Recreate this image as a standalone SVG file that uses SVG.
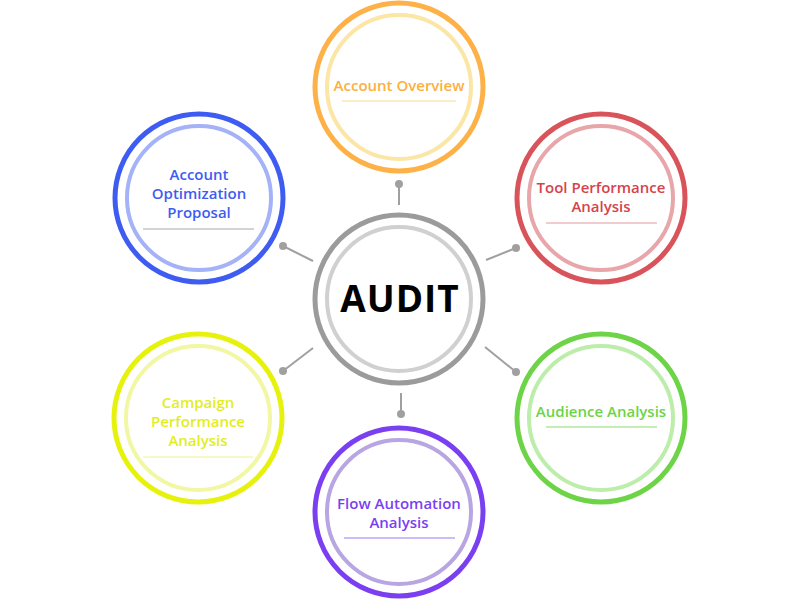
<svg xmlns="http://www.w3.org/2000/svg" width="800" height="600" viewBox="0 0 800 600">
<style>
.o{fill:none;stroke-width:5}
.i{fill:none;stroke-width:4}
.t{font-family:"Open Sans","Liberation Sans",sans-serif;font-weight:600;font-size:15px;text-anchor:middle}
.u{stroke-width:1.2}
.c line{stroke:#a0a0a0;stroke-width:2}
.c circle{fill:#a0a0a0}
</style>
<rect width="800" height="600" fill="#ffffff"/>
<g id="connectors" class="c">
<line x1="399" y1="184" x2="399" y2="205"/><circle cx="399" cy="184" r="4"/>
<line x1="283" y1="246" x2="313" y2="261"/><circle cx="283" cy="246" r="4"/>
<line x1="516" y1="248" x2="486" y2="260"/><circle cx="516" cy="248" r="4"/>
<line x1="283" y1="371" x2="313" y2="348"/><circle cx="283" cy="371" r="4"/>
<line x1="516" y1="372" x2="485" y2="347"/><circle cx="516" cy="372" r="4"/>
<line x1="401" y1="393" x2="401" y2="414"/><circle cx="401" cy="414" r="4"/>
</g>
<g id="audit">
<circle cx="399" cy="299" r="84" class="o" stroke="#9b9b9b"/>
<circle cx="399" cy="299" r="72" class="i" stroke="#d0d0d0"/>
<text x="400" y="312" font-family="Open Sans,Liberation Sans,sans-serif" font-weight="700" font-size="37" text-anchor="middle" letter-spacing="1" fill="#000">AUDIT</text>
</g>
<g id="account-overview">
<circle cx="399" cy="87" r="84" class="o" stroke="#fdb147"/>
<circle cx="399" cy="87" r="72" class="i" stroke="#fbe6a6"/>
<text x="399" y="91" class="t" fill="#fbb040">Account Overview</text>
<line x1="342" y1="101" x2="456" y2="101" class="u" stroke="#f8dc8e"/>
</g>
<g id="account-optimization">
<circle cx="199" cy="198" r="84" class="o" stroke="#3f5cf2"/>
<circle cx="199" cy="198" r="72" class="i" stroke="#a4b2f7"/>
<text class="t" fill="#3f5cf2"><tspan x="199" y="180">Account</tspan><tspan x="199" y="199">Optimization</tspan><tspan x="199" y="218">Proposal</tspan></text>
<line x1="143" y1="229" x2="254" y2="229" class="u" stroke="#aaaaaa"/>
</g>
<g id="tool-performance">
<circle cx="601" cy="198" r="84" class="o" stroke="#d9535b"/>
<circle cx="601" cy="198" r="72" class="i" stroke="#e8a6aa"/>
<text class="t" fill="#d5434c"><tspan x="601" y="193">Tool Performance</tspan><tspan x="601" y="212">Analysis</tspan></text>
<line x1="546" y1="223" x2="657" y2="223" class="u" stroke="#e49a9e"/>
</g>
<g id="campaign-performance">
<circle cx="198" cy="418" r="84" class="o" stroke="#e6f20c"/>
<circle cx="198" cy="418" r="72" class="i" stroke="#f1f7a3"/>
<text class="t" fill="#e2ee1c"><tspan x="198" y="408">Campaign</tspan><tspan x="198" y="427">Performance</tspan><tspan x="198" y="446">Analysis</tspan></text>
<line x1="143" y1="457" x2="253" y2="457" class="u" stroke="#eef58c"/>
</g>
<g id="audience-analysis">
<circle cx="601" cy="418" r="84" class="o" stroke="#6cd446"/>
<circle cx="601" cy="418" r="72" class="i" stroke="#bdedab"/>
<text x="601" y="417" class="t" fill="#6cd446">Audience Analysis</text>
<line x1="546" y1="427" x2="657" y2="427" class="u" stroke="#8ade6e"/>
</g>
<g id="flow-automation">
<circle cx="399" cy="512" r="84" class="o" stroke="#7b3ff2"/>
<circle cx="399" cy="512" r="72" class="i" stroke="#b7a6e2"/>
<text class="t" fill="#7b3ff2"><tspan x="399" y="509">Flow Automation</tspan><tspan x="399" y="528">Analysis</tspan></text>
<line x1="344" y1="538" x2="455" y2="538" class="u" stroke="#9c7af0"/>
</g>
</svg>
